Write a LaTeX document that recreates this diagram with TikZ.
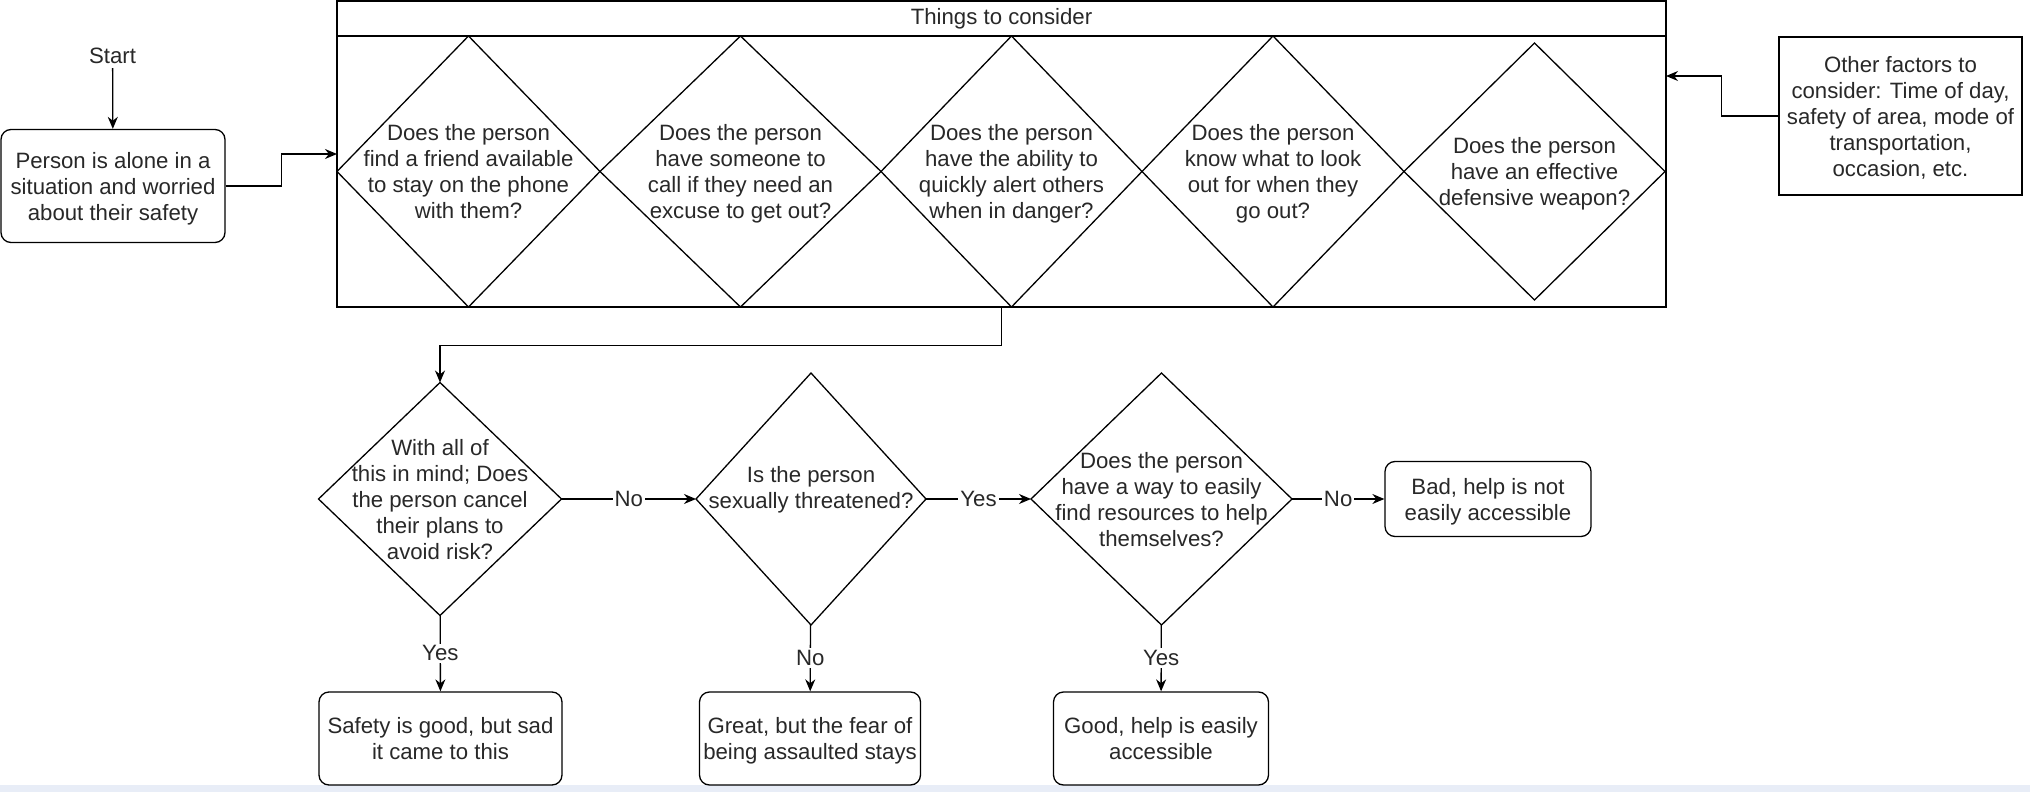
\documentclass[tikz,border=0pt]{standalone}
\usepackage{fontspec}
\setmainfont{Liberation Sans}
\usetikzlibrary{shapes.geometric, arrows.meta, positioning}
\definecolor{screen}{RGB}{232,237,247}
\definecolor{ink}{RGB}{40,40,40}
\begin{document}
\begin{tikzpicture}[x=1pt, y=-1pt, node distance=0pt, line width=0.65pt,
		every node/.style = {font=\fontsize{11.1}{13}\selectfont, text=ink},
		plain/.style = {align=center, inner sep=2pt},
		card/.style = {draw, rounded corners=5pt, align=center, inner sep=0pt, text depth=0pt},
		note/.style = {draw, align=center, inner sep=0pt, text depth=0pt},
		ask/.style = {draw, diamond, inner sep=0pt, outer sep=0pt},
		asktext/.style = {align=center, inner sep=0pt, text depth=0pt},
		lbl/.style = {fill=white, inner sep=1pt},
		arr/.style = {-{Stealth[length=6pt, width=5pt]}}]
		\useasboundingbox (0,0) rectangle (1015,396);
		\fill[white] (0,0) rectangle (1015,396);
		\fill[screen] (0,392.5) rectangle (1015,396);
		% start
		\node[plain] (starttxt) at (56.3,27.8) {Start};
		\node[card, minimum width=112pt, minimum height=56.5pt] (person) at (56.5,93) {Person is alone in a\\situation and worried\\about their safety};
		% things to consider
		\node[draw, minimum width=664.5pt, minimum height=153pt, outer sep=0pt] (box) at (500.75,77) {};
		\node[draw, anchor=north, minimum width=664.5pt, minimum height=17.5pt, outer sep=0pt] (head) at (box.north) {Things to consider};
		\node[ask, anchor=west, minimum width=131.5pt, minimum height=135.5pt] (d1) at (168.5,85.75) {};
		\node[ask, right=of d1, minimum width=140.5pt, minimum height=135.5pt] (d2) {};
		\node[ask, right=of d2, minimum width=130.5pt, minimum height=135.5pt] (d3) {};
		\node[ask, right=of d3, minimum width=131pt, minimum height=135.5pt] (d4) {};
		\node[ask, right=of d4, minimum width=130.5pt, minimum height=128.5pt] (d5) {};
		\node[asktext] (d1t) at (d1) {Does the person\\find a friend available\\to stay on the phone\\with them?};
		\node[asktext] (d2t) at (d2) {Does the person\\have someone to\\call if they need an\\excuse to get out?};
		\node[asktext] (d3t) at (d3) {Does the person\\have the ability to\\quickly alert others\\when in danger?};
		\node[asktext] (d4t) at (d4) {Does the person\\know what to look\\out for when they\\go out?};
		\node[asktext] (d5t) at (d5) {Does the person\\have an effective\\defensive weapon?};
		\node[note, minimum width=121.5pt, minimum height=79pt] (other) at (950.25,58) {Other factors to\\consider: Time of day,\\safety of area, mode of\\transportation,\\occasion, etc.};
		% decisions
		\node[ask, minimum width=121.5pt, minimum height=116.5pt] (q1) at (220,249.5) {};
		\node[ask, minimum width=115pt, minimum height=126pt] (q2) at (405.5,249.5) {};
		\node[ask, minimum width=130.5pt, minimum height=126pt] (q3) at (580.75,249.5) {};
		\node[asktext] (q1t) at (q1) {With all of\\this in mind; Does\\the person cancel\\their plans to\\avoid risk?};
		\node[asktext] (q2t) at ([yshift=6pt]q2.center) {Is the person\\sexually threatened?};
		\node[asktext] (q3t) at (q3) {Does the person\\have a way to easily\\find resources to help\\themselves?};
		% outcomes
		\node[card, minimum width=103pt, minimum height=37.5pt] (bad) at (744,249.5) {Bad, help is not\\easily accessible};
		\node[card, minimum width=121.5pt, minimum height=46.5pt] (safe) at (220.25,369.25) {Safety is good, but sad\\it came to this};
		\node[card, minimum width=110.5pt, minimum height=46.5pt] (great) at (405,369.25) {Great, but the fear of\\being assaulted stays};
		\node[card, minimum width=107.5pt, minimum height=46.5pt] (good) at (580.5,369.25) {Good, help is easily\\accessible};
		% connectors
		\draw[arr] (starttxt) -- (person);
		\draw[arr] (person.east) -- ++(28,0) |- (box.west);
		\draw[arr] (other.west) -- ++(-28.5,0) |- ([yshift=39pt]box.east);
		\draw[arr] (box.south) -- ++(0,19.3) -| (q1.north);
		\draw[arr] (q1) -- node[lbl] (no1) {No} (q2);
		\draw[arr] (q2) -- node[lbl] (yes2) {Yes} (q3);
		\draw[arr] (q3) -- node[lbl] (no3) {No} (bad);
		\draw[arr] (q1) -- node[lbl] (yes1) {Yes} (safe);
		\draw[arr] (q2) -- node[lbl] (no2) {No} (great);
		\draw[arr] (q3) -- node[lbl] (yes3) {Yes} (good);
	\end{tikzpicture}
\end{document}
